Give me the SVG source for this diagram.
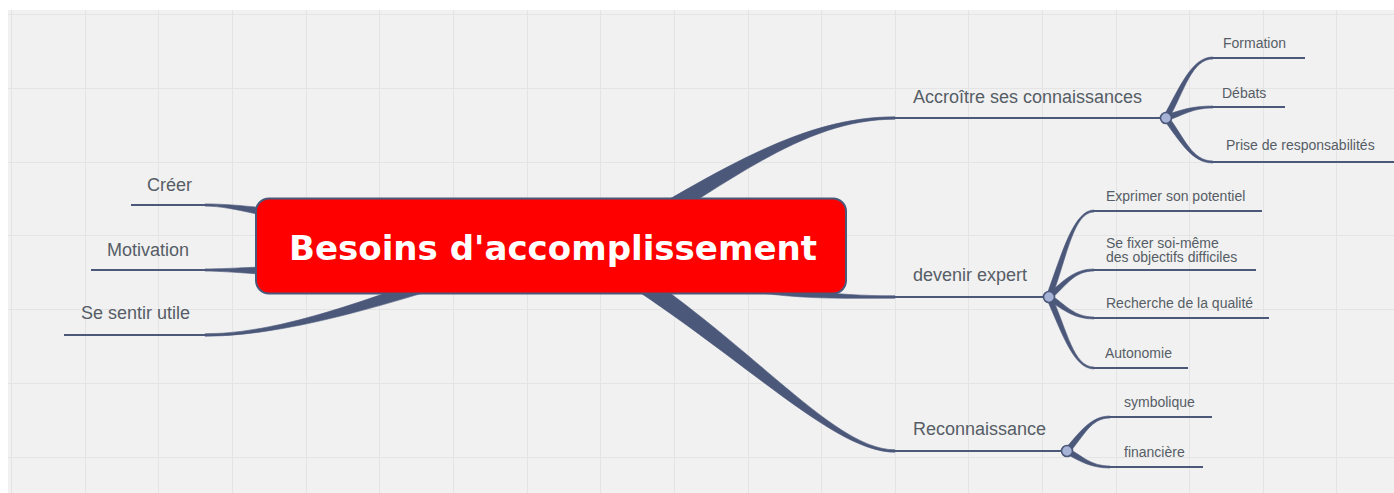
<svg xmlns="http://www.w3.org/2000/svg" width="1394" height="493" viewBox="0 0 1394 493">
<defs>
<style>
.grid line{stroke:#e4e4e4;stroke-width:1}
.br{fill:#4b587a;stroke:#4b587a;stroke-width:0.6}
.ln{stroke:#4b587a;stroke-width:2;fill:none}
.dot{fill:#a6b3d6;stroke:#4b587a;stroke-width:1.6}
.t1{font-family:"Liberation Sans",Arial,sans-serif;font-size:18px;fill:#565d66}
.t2{font-family:"Liberation Sans",Arial,sans-serif;font-size:14px;fill:#565d66}
.tc{font-family:"DejaVu Sans",Verdana,sans-serif;font-weight:bold;font-size:34px;fill:#ffffff}
</style>
</defs>
<rect width="1394" height="493" fill="#ffffff"/>
<rect x="8" y="10" width="1386" height="483" fill="#f1f1f1"/>
<g class="grid">
<line x1="8" y1="14.5" x2="1394" y2="14.5"/>
<line x1="8" y1="88.5" x2="1394" y2="88.5"/>
<line x1="8" y1="162.5" x2="1394" y2="162.5"/>
<line x1="8" y1="235.5" x2="1394" y2="235.5"/>
<line x1="8" y1="309.5" x2="1394" y2="309.5"/>
<line x1="8" y1="383.5" x2="1394" y2="383.5"/>
<line x1="8" y1="457.5" x2="1394" y2="457.5"/>
<line x1="11.5" y1="10" x2="11.5" y2="493"/>
<line x1="85.5" y1="10" x2="85.5" y2="493"/>
<line x1="158.5" y1="10" x2="158.5" y2="493"/>
<line x1="232.5" y1="10" x2="232.5" y2="493"/>
<line x1="306.5" y1="10" x2="306.5" y2="493"/>
<line x1="379.5" y1="10" x2="379.5" y2="493"/>
<line x1="453.5" y1="10" x2="453.5" y2="493"/>
<line x1="527.5" y1="10" x2="527.5" y2="493"/>
<line x1="600.5" y1="10" x2="600.5" y2="493"/>
<line x1="674.5" y1="10" x2="674.5" y2="493"/>
<line x1="748.5" y1="10" x2="748.5" y2="493"/>
<line x1="821.5" y1="10" x2="821.5" y2="493"/>
<line x1="895.5" y1="10" x2="895.5" y2="493"/>
<line x1="968.5" y1="10" x2="968.5" y2="493"/>
<line x1="1042.5" y1="10" x2="1042.5" y2="493"/>
<line x1="1116.5" y1="10" x2="1116.5" y2="493"/>
<line x1="1189.5" y1="10" x2="1189.5" y2="493"/>
<line x1="1263.5" y1="10" x2="1263.5" y2="493"/>
<line x1="1336.5" y1="10" x2="1336.5" y2="493"/>
</g>
<g id="connectors">
<path class="br" d="M595.6,242.5 C715.6,172.5 800,116.8 895,116.8 L895,119.2 C800,119.2 724.4,187.5 604.4,257.5 Z"/>
<path class="br" d="M701.4,269.2 C781.4,289.2 830,295.8 895,295.8 L895,298.2 C830,298.2 778.6,300.8 698.6,280.8 Z"/>
<path class="br" d="M594.6,242.3 C744.6,332.3 830,449.8 895,449.8 L895,452.2 C830,452.2 735.4,347.7 585.4,257.7 Z"/>
<path class="br" d="M517.8,247.6 C417.8,277.6 300,333.8 205,333.8 L205,336.2 C300,336.2 422.2,292.4 522.2,262.4 Z"/>
<path class="br" d="M331.1,216.5 C271.1,208.5 235,203.9 205,203.9 L205,206.1 C235,206.1 268.9,219.5 328.9,227.5 Z"/>
<path class="br" d="M330,265.5 C270,265.5 235,268.9 205,268.9 L205,271.1 C235,271.1 270,276.5 330,276.5 Z"/>
<line class="ln" x1="895" y1="118" x2="1161" y2="118"/>
<line class="ln" x1="895" y1="297" x2="1044" y2="297"/>
<line class="ln" x1="895" y1="451" x2="1062" y2="451"/>
<line class="ln" x1="131" y1="205" x2="206" y2="205"/>
<line class="ln" x1="91" y1="270" x2="206" y2="270"/>
<line class="ln" x1="64" y1="335" x2="206" y2="335"/>
<path class="br" d="M1163.5,116.6 C1180,86.6 1191.9,57 1213,57 L1213,59 C1191.9,59 1185,89.4 1168.5,119.4 Z"/>
<path class="br" d="M1165.1,115.3 C1181.6,109.8 1191.9,106 1213,106 L1213,108 C1191.9,108 1183.4,115.2 1166.9,120.7 Z"/>
<path class="br" d="M1168.2,116.3 C1184.7,138.3 1191.9,161 1213,161 L1213,163 C1191.9,163 1180.3,141.7 1163.8,119.7 Z"/>
<line class="ln" x1="1212" y1="58" x2="1305" y2="58"/>
<line class="ln" x1="1212" y1="107" x2="1285" y2="107"/>
<line class="ln" x1="1212" y1="162" x2="1394" y2="162"/>
<path class="br" d="M1046.4,296 C1062.1,253 1073.75,210 1094,210 L1094,212 C1073.75,212 1067.4,255 1051.6,298 Z"/>
<path class="br" d="M1047.2,294.9 C1062.9,281.4 1073.75,269 1094,269 L1094,271 C1073.75,271 1066.6,285.6 1050.8,299.1 Z"/>
<path class="br" d="M1050.6,294.7 C1066.3,305.2 1073.75,317 1094,317 L1094,319 C1073.75,319 1063.2,309.8 1047.4,299.3 Z"/>
<path class="br" d="M1051.6,295.9 C1067.3,331.4 1073.75,367 1094,367 L1094,369 C1073.75,369 1062.2,333.6 1046.4,298.1 Z"/>
<line class="ln" x1="1093" y1="211" x2="1262" y2="211"/>
<line class="ln" x1="1093" y1="270" x2="1256" y2="270"/>
<line class="ln" x1="1093" y1="318" x2="1269" y2="318"/>
<line class="ln" x1="1093" y1="368" x2="1188" y2="368"/>
<path class="br" d="M1064.9,449.1 C1079.9,432.1 1090.65,416 1110,416 L1110,418 C1090.65,418 1084.1,435.9 1069.1,452.9 Z"/>
<path class="br" d="M1068.3,448.5 C1083.3,456.5 1090.65,466 1110,466 L1110,468 C1090.65,468 1080.7,461.5 1065.7,453.5 Z"/>
<line class="ln" x1="1109" y1="417" x2="1212" y2="417"/>
<line class="ln" x1="1109" y1="467" x2="1203" y2="467"/>
<circle class="dot" cx="1166" cy="118" r="5.5"/>
<circle class="dot" cx="1049" cy="297" r="5.5"/>
<circle class="dot" cx="1067" cy="451" r="5.5"/>
</g>
<g id="center">
<rect x="256" y="198.5" width="590" height="95" rx="13" ry="13" fill="#ff0000" stroke="#4b587a" stroke-width="2"/>
<text class="tc" x="553" y="260" text-anchor="middle" textLength="528" lengthAdjust="spacingAndGlyphs">Besoins d'accomplissement</text>
</g>
<g id="n-creer"><text class="t1" x="192" y="191" text-anchor="end">Créer</text></g>
<g id="n-motivation"><text class="t1" x="189" y="256" text-anchor="end">Motivation</text></g>
<g id="n-utile"><text class="t1" x="190" y="319" text-anchor="end">Se sentir utile</text></g>
<g id="n-accroitre"><text class="t1" x="913" y="103">Accroître ses connaissances</text></g>
<g id="n-formation"><text class="t2" x="1223" y="48">Formation</text></g>
<g id="n-debats"><text class="t2" x="1222" y="98">Débats</text></g>
<g id="n-prise"><text class="t2" x="1226" y="150">Prise de responsabilités</text></g>
<g id="n-expert"><text class="t1" x="913" y="281">devenir expert</text></g>
<g id="n-exprimer"><text class="t2" x="1106" y="201">Exprimer son potentiel</text></g>
<g id="n-fixer"><text class="t2" x="1106" y="248">Se fixer soi-même</text><text class="t2" x="1106" y="262">des objectifs difficiles</text></g>
<g id="n-qualite"><text class="t2" x="1106" y="308">Recherche de la qualité</text></g>
<g id="n-autonomie"><text class="t2" x="1105" y="358">Autonomie</text></g>
<g id="n-reconnaissance"><text class="t1" x="913" y="435">Reconnaissance</text></g>
<g id="n-symbolique"><text class="t2" x="1124" y="407">symbolique</text></g>
<g id="n-financiere"><text class="t2" x="1124" y="457">financière</text></g>
</svg>
